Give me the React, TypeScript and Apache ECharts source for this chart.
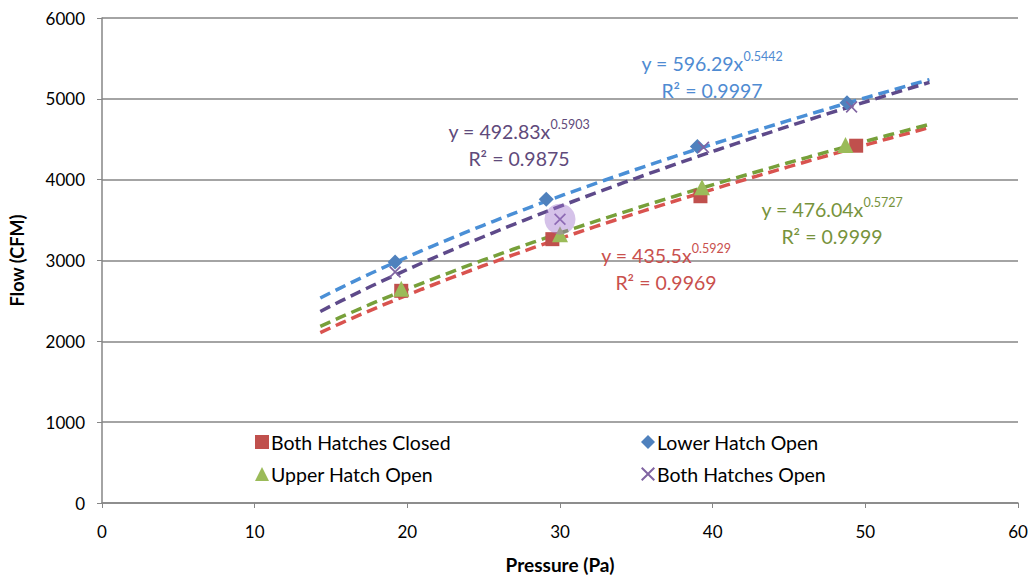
import React, { useEffect, useRef } from "react";
import * as echarts from "echarts";

const xTicks = [0, 10, 20, 30, 40, 50, 60];
const seriesNames = ["Both Hatches Closed", "Lower Hatch Open", "Upper Hatch Open", "Both Hatches Open"];
const closedPts = [[19.6, 2625], [29.5, 3264], [39.2, 3795], [49.4, 4420]];
const lowerPts = [[19.2, 2981], [29.1, 3757], [39.0, 4410], [48.8, 4953]];
const upperPts = [[19.6, 2649], [30.0, 3326], [39.3, 3905], [48.7, 4430]];
const bothOpenPts = [[19.2, 2858], [30.0, 3511], [39.4, 4400], [49.1, 4900]];
const highlightPt = [[30.0, 3511]];
// trendline equation coefficients shown on the chart: y = a * x^b
const trendA = [435.5, 596.29, 476.04, 492.83];
const trendB = [0.5929, 0.5442, 0.5727, 0.5903];
const trendR2 = ["0.9969", "0.9997", "0.9999", "0.9875"];
const trendRange = [14.3, 54.2];

const markerColors = ["#C0504D", "#4F81BD", "#9BBB59", "#8064A2"];
const trendColors = ["#D9534F", "#4A8FD6", "#77A03A", "#5E4A8A"];
const textColors = ["#C9504D", "#4F8BD2", "#77933C", "#604A7B"];

const FONT = "Lato, 'Open Sans', sans-serif";

function trendData(i: number) {
  const pts: number[][] = [];
  const n = 60;
  for (let k = 0; k <= n; k++) {
    const x = trendRange[0] + ((trendRange[1] - trendRange[0]) * k) / n;
    pts.push([x, trendA[i] * Math.pow(x, trendB[i])]);
  }
  return pts;
}

const diamond = "path://M5,0L10,5L5,10L0,5Z";
const xMark = "path://M0,1L1,0L5,4L9,0L10,1L6,5L10,9L9,10L5,6L1,10L0,9L4,5Z";

export default function App() {
  const ref = useRef<HTMLDivElement>(null);
  useEffect(() => {
    document.body.style.margin = "0";
    const chart = echarts.init(ref.current!, null, { renderer: "svg" });
    const eq = (i: number, x: number, y: number) => ({
      type: "text",
      x,
      y,
      z: 100,
      style: {
        text: `{b|y = ${trendA[i]}x}{s|${trendB[i].toFixed(4)}}\n{b|R² = ${trendR2[i]}}`,
        align: "center",
        verticalAlign: "top",
        rich: {
          b: { fontSize: 19.5, fill: textColors[i], fontFamily: FONT, lineHeight: 27, align: "center" },
          s: { fontSize: 12.5, fill: textColors[i], fontFamily: FONT, lineHeight: 27, verticalAlign: "top", padding: [0, 0, 13, 0] },
        },
      },
    });
    const markerSeries = [
      { name: seriesNames[0], data: closedPts, symbol: "rect", symbolSize: 14, z: 3 },
      { name: seriesNames[1], data: lowerPts, symbol: diamond, symbolSize: 15, z: 4 },
      { name: seriesNames[2], data: upperPts, symbol: "triangle", symbolSize: 16, z: 5 },
      { name: seriesNames[3], data: bothOpenPts, symbol: xMark, symbolSize: 12, z: 6 },
    ].map((s, i) => ({
      type: "scatter",
      name: s.name,
      data: s.data,
      symbol: s.symbol,
      symbolSize: s.symbolSize,
      z: s.z,
      itemStyle: { color: markerColors[i], opacity: 1 },
    }));
    const trendSeries = [0, 1, 2, 3].map((i) => ({
      type: "line",
      name: "trend" + i,
      data: trendData(i),
      showSymbol: false,
      symbol: "none",
      smooth: false,
      z: 2,
      lineStyle: { color: trendColors[i], width: 3.5, type: [11, 6] },
      silent: true,
    }));
    const legendBase = {
      orient: "vertical",
      top: 427,
      itemWidth: 14,
      itemHeight: 14,
      itemGap: 12,
      textStyle: { fontFamily: FONT, fontSize: 19.5, color: "#000", padding: [0, 0, 0, -3] },
    };
    chart.setOption({
      animation: false,
      backgroundColor: "#ffffff",
      grid: { left: 102, right: 13, top: 18, bottom: 74 },
      xAxis: {
        type: "value",
        min: 0,
        max: 60,
        interval: 10,
        name: "Pressure (Pa)",
        nameLocation: "middle",
        nameGap: 52,
        nameTextStyle: { fontFamily: FONT, fontWeight: "bold", fontSize: 19, color: "#000" },
        axisLine: { lineStyle: { color: "#868686", width: 1.5 } },
        axisTick: { show: true, length: 5, lineStyle: { color: "#868686" } },
        axisLabel: { fontFamily: FONT, fontSize: 17, color: "#000", margin: 20, formatter: (v: number) => (xTicks.includes(v) ? String(v) : "") },
        splitLine: { show: false },
      },
      yAxis: {
        type: "value",
        min: 0,
        max: 6000,
        interval: 1000,
        name: "Flow (CFM)",
        nameLocation: "middle",
        nameGap: 76,
        nameTextStyle: { fontFamily: FONT, fontWeight: "bold", fontSize: 18, color: "#000" },
        axisLine: { show: true, lineStyle: { color: "#868686", width: 1.5 } },
        axisTick: { show: true, length: 5, lineStyle: { color: "#868686" } },
        axisLabel: { fontFamily: FONT, fontSize: 17, color: "#000", margin: 17, formatter: (v: number) => String(v) },
        splitLine: { show: true, lineStyle: { color: "#868686", width: 1.5 } },
      },
      legend: [
        { ...legendBase, data: [seriesNames[0], seriesNames[2]], left: 250 },
        { ...legendBase, data: [seriesNames[1], seriesNames[3]], left: 636 },
      ],
      graphic: [eq(1, 712, 50), eq(3, 519, 118), eq(2, 832, 196), eq(0, 666, 242)],
      series: [
        ...trendSeries,
        ...markerSeries,
        {
          type: "scatter",
          name: "highlight",
          data: highlightPt,
          symbol: "circle",
          symbolSize: 31,
          z: 7,
          silent: true,
          itemStyle: { color: "rgba(160,115,205,0.55)" },
        },
      ],
    });
    return () => chart.dispose();
  }, []);
  return <div ref={ref} style={{ width: 1031, height: 579 }} />;
}
